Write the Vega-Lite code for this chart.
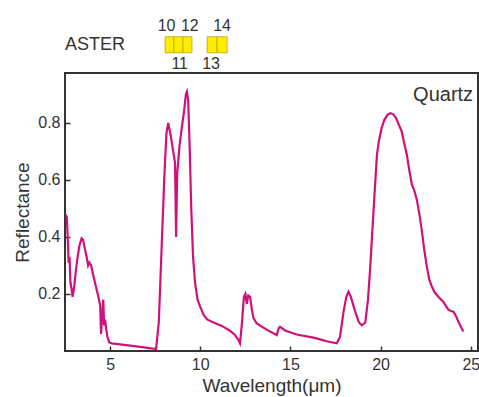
{
  "$schema": "https://vega.github.io/schema/vega-lite/v6.json",
  "width": 413,
  "height": 278,
  "autosize": {"type": "none"},
  "padding": {"left": 65, "top": 73, "right": 1, "bottom": 46},
  "background": "white",
  "config": {
    "view": {"stroke": "#333", "strokeWidth": 2},
    "font": "Liberation Sans",
    "axis": {
      "grid": false,
      "domain": false,
      "labelFont": "Liberation Sans",
      "labelFontSize": 16,
      "labelColor": "#333",
      "titleFont": "Liberation Sans",
      "titleFontSize": 19,
      "titleFontWeight": "normal",
      "titleColor": "#333",
      "tickColor": "#333",
      "tickWidth": 1.5,
      "tickSize": -5
    }
  },
  "datasets": {
    "spectrum": [
      {"w": 2.52, "r": 0.48}, {"w": 2.6, "r": 0.47}, {"w": 2.65, "r": 0.40}, {"w": 2.7, "r": 0.31},
      {"w": 2.75, "r": 0.33}, {"w": 2.8, "r": 0.24}, {"w": 2.86, "r": 0.22}, {"w": 2.92, "r": 0.19},
      {"w": 3.0, "r": 0.22}, {"w": 3.1, "r": 0.28}, {"w": 3.2, "r": 0.33}, {"w": 3.3, "r": 0.37},
      {"w": 3.42, "r": 0.395}, {"w": 3.5, "r": 0.39}, {"w": 3.6, "r": 0.36}, {"w": 3.7, "r": 0.33},
      {"w": 3.78, "r": 0.30}, {"w": 3.85, "r": 0.31}, {"w": 3.95, "r": 0.30}, {"w": 4.05, "r": 0.27},
      {"w": 4.2, "r": 0.23}, {"w": 4.35, "r": 0.19}, {"w": 4.45, "r": 0.16}, {"w": 4.5, "r": 0.06},
      {"w": 4.56, "r": 0.12}, {"w": 4.62, "r": 0.18}, {"w": 4.67, "r": 0.09}, {"w": 4.72, "r": 0.11},
      {"w": 4.78, "r": 0.08}, {"w": 4.85, "r": 0.05}, {"w": 4.95, "r": 0.03}, {"w": 5.1, "r": 0.027},
      {"w": 6.0, "r": 0.02}, {"w": 7.0, "r": 0.012}, {"w": 7.55, "r": 0.007}, {"w": 7.7, "r": 0.1},
      {"w": 7.85, "r": 0.35}, {"w": 8.0, "r": 0.6}, {"w": 8.12, "r": 0.76}, {"w": 8.22, "r": 0.80},
      {"w": 8.35, "r": 0.76}, {"w": 8.5, "r": 0.70}, {"w": 8.6, "r": 0.66}, {"w": 8.66, "r": 0.40},
      {"w": 8.72, "r": 0.62}, {"w": 8.85, "r": 0.72}, {"w": 8.97, "r": 0.78}, {"w": 9.1, "r": 0.84},
      {"w": 9.2, "r": 0.90}, {"w": 9.26, "r": 0.91}, {"w": 9.33, "r": 0.88}, {"w": 9.42, "r": 0.70},
      {"w": 9.5, "r": 0.50}, {"w": 9.6, "r": 0.33}, {"w": 9.71, "r": 0.24}, {"w": 9.85, "r": 0.18},
      {"w": 10.0, "r": 0.155}, {"w": 10.2, "r": 0.125}, {"w": 10.4, "r": 0.11}, {"w": 10.8, "r": 0.098},
      {"w": 11.2, "r": 0.088}, {"w": 11.6, "r": 0.073}, {"w": 11.9, "r": 0.058}, {"w": 12.1, "r": 0.04},
      {"w": 12.2, "r": 0.027}, {"w": 12.3, "r": 0.09}, {"w": 12.42, "r": 0.19}, {"w": 12.5, "r": 0.20},
      {"w": 12.58, "r": 0.165}, {"w": 12.66, "r": 0.195}, {"w": 12.76, "r": 0.19}, {"w": 12.85, "r": 0.15},
      {"w": 12.95, "r": 0.115}, {"w": 13.13, "r": 0.097}, {"w": 13.7, "r": 0.074}, {"w": 14.24, "r": 0.056},
      {"w": 14.35, "r": 0.08}, {"w": 14.42, "r": 0.085}, {"w": 14.7, "r": 0.072}, {"w": 15.35, "r": 0.058},
      {"w": 16.27, "r": 0.047}, {"w": 16.7, "r": 0.04}, {"w": 17.0, "r": 0.034}, {"w": 17.57, "r": 0.027},
      {"w": 17.75, "r": 0.05}, {"w": 17.95, "r": 0.14}, {"w": 18.1, "r": 0.19}, {"w": 18.22, "r": 0.208},
      {"w": 18.35, "r": 0.19}, {"w": 18.58, "r": 0.14}, {"w": 18.8, "r": 0.10}, {"w": 18.96, "r": 0.09},
      {"w": 19.15, "r": 0.10}, {"w": 19.3, "r": 0.18}, {"w": 19.42, "r": 0.29}, {"w": 19.55, "r": 0.43},
      {"w": 19.69, "r": 0.58}, {"w": 19.8, "r": 0.69}, {"w": 19.9, "r": 0.735}, {"w": 20.05, "r": 0.78},
      {"w": 20.2, "r": 0.81}, {"w": 20.4, "r": 0.83}, {"w": 20.55, "r": 0.834}, {"w": 20.7, "r": 0.83},
      {"w": 20.85, "r": 0.818}, {"w": 21.0, "r": 0.795}, {"w": 21.17, "r": 0.77}, {"w": 21.3, "r": 0.73},
      {"w": 21.45, "r": 0.69}, {"w": 21.6, "r": 0.63}, {"w": 21.73, "r": 0.585}, {"w": 21.88, "r": 0.56},
      {"w": 22.01, "r": 0.53}, {"w": 22.15, "r": 0.48}, {"w": 22.28, "r": 0.425}, {"w": 22.42, "r": 0.355},
      {"w": 22.56, "r": 0.296}, {"w": 22.7, "r": 0.25}, {"w": 22.84, "r": 0.226}, {"w": 23.0, "r": 0.205},
      {"w": 23.2, "r": 0.19}, {"w": 23.48, "r": 0.172}, {"w": 23.6, "r": 0.16}, {"w": 23.76, "r": 0.145},
      {"w": 23.9, "r": 0.14}, {"w": 24.04, "r": 0.138}, {"w": 24.2, "r": 0.12}, {"w": 24.31, "r": 0.103},
      {"w": 24.45, "r": 0.085}, {"w": 24.59, "r": 0.068}
    ],
    "bands": [
      {"band": "10", "w0": 8.05, "w1": 8.54, "r0": 1.046, "r1": 1.102, "wc": 8.13, "lr": 1.14},
      {"band": "11", "w0": 8.54, "w1": 9.04, "r0": 1.046, "r1": 1.102, "wc": 8.86, "lr": 1.005},
      {"band": "12", "w0": 9.04, "w1": 9.54, "r0": 1.046, "r1": 1.102, "wc": 9.42, "lr": 1.14},
      {"band": "13", "w0": 10.38, "w1": 10.93, "r0": 1.046, "r1": 1.102, "wc": 10.6, "lr": 1.005},
      {"band": "14", "w0": 10.93, "w1": 11.49, "r0": 1.046, "r1": 1.102, "wc": 11.21, "lr": 1.14}
    ],
    "aster": [{"label": "ASTER", "w": 2.5, "r": 1.074}],
    "mineral": [{"label": "Quartz", "w": 25.13, "r": 0.898}]
  },
  "layer": [
    {
      "data": {"name": "spectrum"},
      "mark": {"type": "line", "color": "#cf1179", "strokeWidth": 2.2, "clip": true},
      "encoding": {
        "x": {"field": "w", "type": "quantitative",
              "scale": {"domain": [2.5, 25.4], "nice": false, "zero": false},
              "axis": {"values": [5, 10, 15, 20, 25], "title": "Wavelength(μm)", "labelPadding": 10, "titlePadding": 4}},
        "y": {"field": "r", "type": "quantitative",
              "scale": {"domain": [0, 0.975], "nice": false, "zero": false},
              "axis": {"values": [0.2, 0.4, 0.6, 0.8], "format": ".1f", "title": "Reflectance", "labelPadding": 10, "titlePadding": 5}}
      }
    },
    {
      "data": {"name": "bands"},
      "mark": {"type": "rect", "fill": "#ffec00", "stroke": "#b5a600", "strokeWidth": 0.8, "clip": false},
      "encoding": {
        "x": {"field": "w0", "type": "quantitative"},
        "x2": {"field": "w1"},
        "y": {"field": "r0", "type": "quantitative"},
        "y2": {"field": "r1"}
      }
    },
    {
      "data": {"name": "bands"},
      "mark": {"type": "text", "fontSize": 16, "color": "#333", "align": "center", "baseline": "middle", "clip": false},
      "encoding": {
        "x": {"field": "wc", "type": "quantitative"},
        "y": {"field": "lr", "type": "quantitative"},
        "text": {"field": "band"}
      }
    },
    {
      "data": {"name": "aster"},
      "mark": {"type": "text", "fontSize": 18, "color": "#333", "align": "left", "baseline": "middle", "clip": false},
      "encoding": {
        "x": {"field": "w", "type": "quantitative"},
        "y": {"field": "r", "type": "quantitative"},
        "text": {"field": "label"}
      }
    },
    {
      "data": {"name": "mineral"},
      "mark": {"type": "text", "fontSize": 20, "color": "#333", "align": "right", "baseline": "middle", "clip": false},
      "encoding": {
        "x": {"field": "w", "type": "quantitative"},
        "y": {"field": "r", "type": "quantitative"},
        "text": {"field": "label"}
      }
    }
  ]
}
